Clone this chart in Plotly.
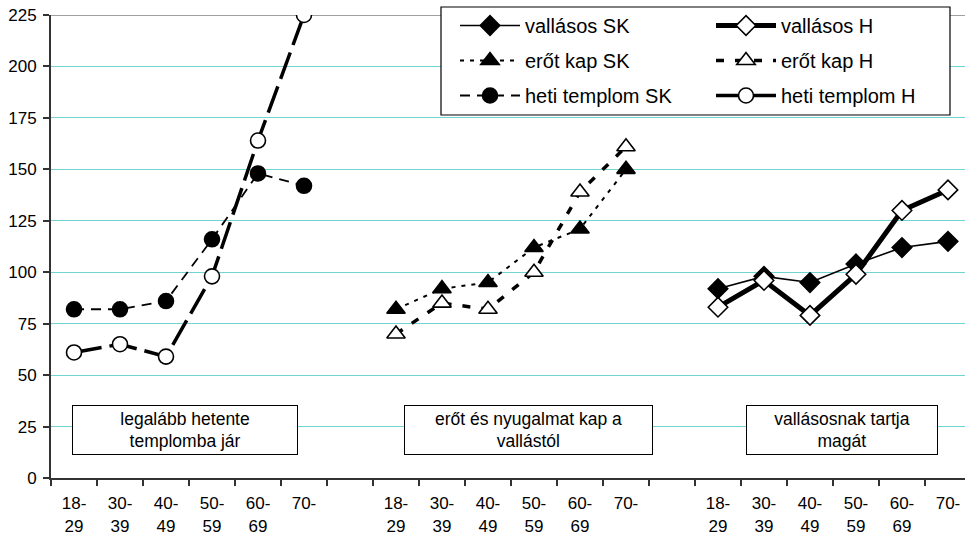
import plotly.graph_objects as go

# ---- data ----
age_labels = ["18-<br>29", "30-<br>39", "40-<br>49", "50-<br>59", "60-<br>69", "70-"]
group_titles = ["legalább hetente<br>templomba jár",
                "erőt és nyugalmat kap a<br>vallástól",
                "vallásosnak tartja<br>magát"]

heti_templom_SK = [82, 82, 86, 116, 148, 142]
heti_templom_H = [61, 65, 59, 98, 164, 225]
erot_kap_SK = [82, 92, 95, 112, 121, 150]
erot_kap_H = [70, 85, 82, 100, 139, 161]
vallasos_SK = [92, 98, 95, 104, 112, 115]
vallasos_H = [83, 96, 79, 99, 130, 140]

y_ticks = [0, 25, 50, 75, 100, 125, 150, 175, 200, 225]

# group slot positions (6 age groups, one empty slot between groups)
group_start = [0, 7, 14]
xs = [[g + i for i in range(len(age_labels))] for g in group_start]

FONT = "Liberation Sans, Arial, sans-serif"

fig = go.Figure()

def add(name, x, y, lw, dash, symbol, fill, legend, size):
    fig.add_trace(go.Scatter(
        x=x, y=y, name=name, mode="lines+markers",
        line=dict(color="black", width=lw, dash=dash),
        marker=dict(symbol=symbol, size=size, color=fill,
                    line=dict(color="black", width=1.6)),
        legend=legend, legendgroup=name,
    ))

add("vallásos SK", xs[2], vallasos_SK, 1.6, "solid", "diamond", "black", "legend", 15)
add("erőt kap SK", xs[1], erot_kap_SK, 2, "4px,6px", "triangle-up", "black", "legend", 16)
add("heti templom SK", xs[0], heti_templom_SK, 1.8, "10px,7px", "circle", "black", "legend", 15)
add("vallásos H", xs[2], vallasos_H, 5, "solid", "diamond", "white", "legend2", 15)
add("erőt kap H", xs[1], erot_kap_H, 3.5, "8px,11px", "triangle-up", "white", "legend2", 16)
add("heti templom H", xs[0], heti_templom_H, 3.5, "28px,8px", "circle", "white", "legend2", 15)

tickvals = [v for grp in xs for v in grp]
ticktext = age_labels * 3
boundaries = [k - 0.5 for k in range(21)]

fig.update_xaxes(
    range=[-0.5, 19.37], tickmode="array", tickvals=tickvals, ticktext=ticktext,
    ticks="", showgrid=False, zeroline=False,
    showline=True, linecolor="#333333", linewidth=2,
    tickfont=dict(family=FONT, size=17, color="black"),
    ticklabelstandoff=9,
    minor=dict(tickmode="array", tickvals=boundaries, ticks="outside",
               ticklen=6, tickcolor="#333333", tickwidth=1.5, showgrid=False),
)
fig.update_yaxes(
    range=[0, 225], tickmode="array", tickvals=y_ticks,
    ticks="outside", ticklen=6, tickcolor="#333333", tickwidth=1.5,
    showline=True, linecolor="#333333", linewidth=2,
    showgrid=True, gridcolor="#70d4d4", gridwidth=1.2, zeroline=False,
    tickfont=dict(family=FONT, size=17, color="black"),
    ticklabelstandoff=3,
)

# plot top border (grey)
fig.add_shape(type="line", xref="paper", yref="y", x0=0, x1=1, y0=225, y1=225,
              line=dict(color="#a0a0a0", width=2), layer="between")

# legend frame
fig.add_shape(type="rect", xref="paper", yref="paper",
              x0=(441 - 51) / 914, x1=(950 - 51) / 914,
              y0=(478 - 115) / 463, y1=(478 - 7) / 463,
              line=dict(color="black", width=1.2), fillcolor="white", layer="above")

# group title boxes
box_x = [2.413, 9.88, 16.7]
box_w = [224, 247, 190]
for t, bx, bw in zip(group_titles, box_x, box_w):
    fig.add_annotation(x=bx, y=23.3, xref="x", yref="y", text=t, showarrow=False,
                       width=bw, height=48, bgcolor="white", bordercolor="black",
                       borderwidth=1, borderpad=0,
                       font=dict(family=FONT, size=17.5, color="black"))

leg_common = dict(bgcolor="rgba(0,0,0,0)", borderwidth=0, yanchor="top", xanchor="left",
                  font=dict(family=FONT, size=20, color="black"),
                  tracegroupgap=6, itemwidth=60)
fig.update_layout(
    width=965, height=536,
    margin=dict(l=51, r=0, t=15, b=58),
    paper_bgcolor="white", plot_bgcolor="white",
    font=dict(family=FONT, size=16, color="black"),
    showlegend=True,
    legend=dict(x=(455 - 51) / 914, y=(478 - 6) / 463, **leg_common),
    legend2=dict(x=(711 - 51) / 914, y=(478 - 6) / 463, **leg_common),
)

fig.write_html("out.html")
